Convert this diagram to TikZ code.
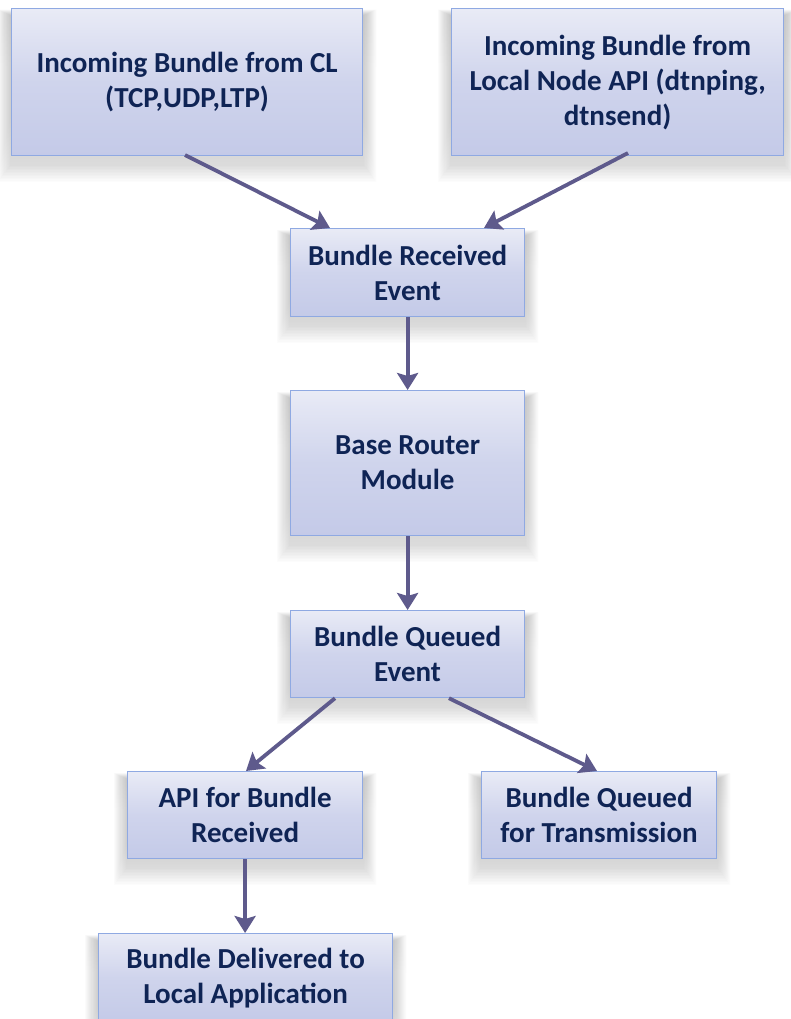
\documentclass[tikz,border=0pt]{standalone}
\usepackage{fontspec}
\setmainfont{Carlito}
\usetikzlibrary{arrows.meta,backgrounds}
\definecolor{boxtop}{HTML}{E9EBF6}
\definecolor{boxbot}{HTML}{C4CAE8}
\definecolor{boxline}{HTML}{8FA9E2}
\definecolor{txt}{HTML}{0F2455}
\definecolor{arr}{HTML}{5E5A8C}
\definecolor{shade}{HTML}{7C8CC0}
\begin{document}
\begin{tikzpicture}[x=1pt,y=-1pt,
  stepbox/.style={draw=boxline,line width=1.2pt,top color=boxtop,bottom color=boxbot,
    middle color=boxbot!70!boxtop,
    text=txt,font=\fontsize{29}{35}\selectfont\bfseries,align=center,
    inner sep=0pt,anchor=north west},
  flow/.style={draw=arr,line width=3.8pt,-{Stealth[length=17pt,width=21pt,inset=3pt]}}]
\useasboundingbox (0,0) rectangle (790,1019);
\clip (0,0) rectangle (790,1019);
% top row: sources of incoming bundles
\node[stepbox,minimum width=351pt,minimum height=147pt] (cl) at (11,8)
  {Incoming Bundle from CL\\(TCP,UDP,LTP)};
\node[stepbox,minimum width=332pt,minimum height=147pt] (api) at (451,8)
  {Incoming Bundle from\\Local Node API (dtnping,\\dtnsend)};
% central chain
\node[stepbox,minimum width=234pt,minimum height=88pt] (rcv) at (290,228)
  {Bundle Received\\Event};
\node[stepbox,minimum width=234pt,minimum height=145pt] (router) at (290,390)
  {Base Router\\Module};
\node[stepbox,minimum width=234pt,minimum height=87pt] (queued) at (290,610)
  {Bundle Queued\\Event};
% branches
\node[stepbox,minimum width=235pt,minimum height=87pt] (apirx) at (127,771)
  {API for Bundle\\Received};
\node[stepbox,minimum width=235pt,minimum height=87pt] (tx) at (481,771)
  {Bundle Queued\\for Transmission};
\node[stepbox,minimum width=294pt,minimum height=88pt] (deliv) at (98,933)
  {Bundle Delivered to\\Local Application};
% soft drop shadows under every box
\begin{scope}[on background layer]
  \fill[white] (0,0) rectangle (790,1019);
  \foreach \n in {cl,api,rcv,router,queued,apirx,tx,deliv}{
    \foreach \k in {1,...,12}{
      \fill[shade,opacity=0.011]
        ([xshift=-1.1*\k pt,yshift=-8pt+0.5*\k pt]\n.north west) rectangle
        ([xshift=1.1*\k pt,yshift=-8pt-1.5*\k pt]\n.south east);
    }
  }
\end{scope}
% connectors
\coordinate (clout) at (185,155);
\coordinate (apiout) at (628,153);
\draw[flow] (clout) -- (rcv.north west -| 330,0);
\draw[flow] (apiout) -- (rcv.north west -| 484,0);
\draw[flow] (rcv.south) -- (router.north);
\draw[flow] (router.south) -- (queued.north);
\draw[flow] (queued.south west -| 335,0) -- (apirx.north -| 246,0);
\draw[flow] (queued.south west -| 449,0) -- (tx.north -| 597,0);
\draw[flow] (apirx.south) -- (deliv.north -| apirx.south);
\end{tikzpicture}
\end{document}
